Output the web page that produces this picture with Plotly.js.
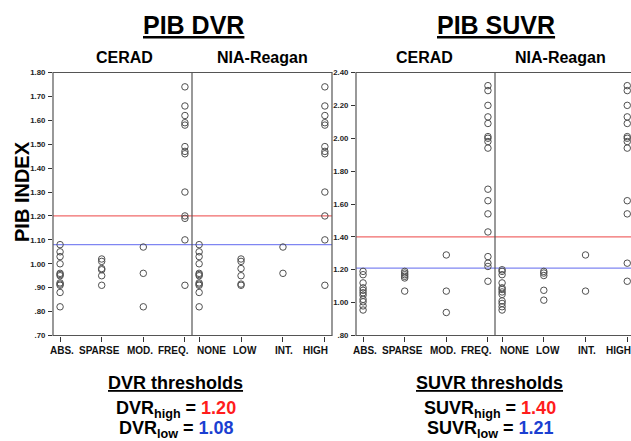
<!DOCTYPE html>
<html>
<head>
<meta charset="utf-8">
<script src="https://cdn.plot.ly/plotly-3.0.1.min.js"></script>
<style>html,body{margin:0;padding:0;background:#fff;}#chart{width:631px;height:441px;}</style>
</head>
<body>
<div id="chart"></div>
<script>
// ---- categories ----
const ceradCats = ['ABS.', 'SPARSE', 'MOD.', 'FREQ.'];
const niaCats = ['NONE', 'LOW', 'INT.', 'HIGH'];

// ---- PIB DVR values ----
const dvrAbs = [1.08, 1.05, 1.03, 1.00, 0.96, 0.955, 0.95, 0.92, 0.915, 0.91, 0.88, 0.82];
const dvrSparse = [1.02, 1.01, 0.98, 0.975, 0.95, 0.91];
const dvrMod = [1.07, 0.96, 0.82];
const dvrFreq = [1.74, 1.66, 1.62, 1.59, 1.58, 1.49, 1.47, 1.46, 1.30, 1.20, 1.19, 1.10, 0.91];
const dvrNone = [1.08, 1.05, 1.03, 1.00, 0.96, 0.955, 0.95, 0.92, 0.915, 0.91, 0.88, 0.82];
const dvrLow = [1.02, 1.01, 0.98, 0.95, 0.915, 0.91];
const dvrInt = [1.07, 0.96];
const dvrHigh = [1.74, 1.66, 1.62, 1.59, 1.58, 1.49, 1.47, 1.46, 1.30, 1.20, 1.10, 0.91];

// ---- PIB SUVR values ----
const suvrAbs = [1.19, 1.17, 1.12, 1.09, 1.075, 1.06, 1.045, 1.02, 1.005, 0.98, 0.955];
const suvrSparse = [1.19, 1.18, 1.17, 1.16, 1.15, 1.07];
const suvrMod = [1.29, 1.07, 0.94];
const suvrFreq = [2.32, 2.29, 2.20, 2.13, 2.09, 2.01, 2.00, 1.98, 1.94, 1.69, 1.62, 1.54, 1.43, 1.28, 1.24, 1.22, 1.13];
const suvrNone = [1.20, 1.19, 1.17, 1.12, 1.09, 1.08, 1.065, 1.05, 1.01, 0.995, 0.975, 0.955];
const suvrLow = [1.19, 1.18, 1.165, 1.075, 1.015];
const suvrInt = [1.29, 1.07];
const suvrHigh = [2.32, 2.29, 2.20, 2.13, 2.09, 2.01, 2.00, 1.98, 1.94, 1.62, 1.54, 1.24, 1.13];

// ---- thresholds [high, low] ----
const thrDVR = [1.20, 1.08];
const thrSUVR = [1.40, 1.21];

// ---- tick labels ----
const dvrTickVals = [0.7, 0.8, 0.9, 1.0, 1.1, 1.2, 1.3, 1.4, 1.5, 1.6, 1.7, 1.8];
const dvrTickText = ['.70', '.80', '.90', '1.00', '1.10', '1.20', '1.30', '1.40', '1.50', '1.60', '1.70', '1.80'];
const suvrTickVals = [0.8, 1.0, 1.2, 1.4, 1.6, 1.8, 2.0, 2.2, 2.4];
const suvrTickText = ['.80', '1.00', '1.20', '1.40', '1.60', '1.80', '2.00', '2.20', '2.40'];

// ---- build ----
const W = 631, H = 441;
const fx = v => v / W;
const fy = v => 1 - v / H;
const FONT = 'Liberation Sans, Arial, Helvetica, sans-serif';
const marker = {symbol: 'circle-open', size: 6.5, color: '#505050', line: {width: 1, color: '#505050'}};

function groupTrace(cat, vals, xa, ya) {
  return {type: 'scatter', mode: 'markers', x: vals.map(() => cat), y: vals,
          xaxis: xa, yaxis: ya, marker: marker, showlegend: false, hoverinfo: 'y', cliponaxis: false};
}

const traces = [];
const panels = [[dvrAbs, dvrSparse, dvrMod, dvrFreq], [dvrNone, dvrLow, dvrInt, dvrHigh],
 [suvrAbs, suvrSparse, suvrMod, suvrFreq], [suvrNone, suvrLow, suvrInt, suvrHigh]];
panels.forEach((groups, i) => {
  const cats = (i % 2 === 0) ? ceradCats : niaCats;
  const xa = i === 0 ? 'x' : 'x' + (i + 1);
  const ya = i < 2 ? 'y' : 'y2';
  groups.forEach((g, j) => traces.push(groupTrace(cats[j], g, xa, ya)));
});

const yDomain = [1 - 335.5 / H, 1 - 72.5 / H];
function xAxis(cats, d0, d1, r1, anchor) {
  return {type: 'category', categoryorder: 'array', categoryarray: cats,
          domain: [fx(d0), fx(d1)], range: [-0.17, r1], anchor: anchor,
          showgrid: false, zeroline: false, showline: false, ticks: 'outside', ticklen: 5,
          tickcolor: '#333', tickwidth: 1, showticklabels: false, fixedrange: true};
}
function yAxis(vals, text, range, anchor) {
  return {domain: yDomain, range: range, anchor: anchor, tickvals: vals, ticktext: text,
          showgrid: false, zeroline: false, showline: false, ticks: 'outside', ticklen: 4,
          tickcolor: '#333', tickwidth: 1, ticklabelstandoff: 1,
          tickfont: {size: 7.8, family: FONT, color: '#222', weight: 'bold'}, fixedrange: true};
}

const boxLine = {color: '#555', width: 1.2};
const shapes = [];
function panel(x0, xm, x1) {
  shapes.push({type: 'rect', xref: 'paper', yref: 'paper', x0: fx(x0), x1: fx(x1), y0: yDomain[0], y1: yDomain[1], line: boxLine, layer: 'above'});
  shapes.push({type: 'line', xref: 'paper', yref: 'paper', x0: fx(xm), x1: fx(xm), y0: yDomain[0], y1: yDomain[1], line: boxLine, layer: 'above'});
}
panel(53, 192, 332);
panel(356, 495, 632);
function thr(v, yref, x0, x1, color) {
  shapes.push({type: 'line', xref: 'paper', yref: yref, x0: fx(x0), x1: fx(x1), y0: v, y1: v, line: {color: color, width: 1.3}, layer: 'below'});
}
const RED_LINE = '#f06a6a', BLUE_LINE = '#7f86f2';
thr(thrDVR[0], 'y', 53, 332, RED_LINE);
thr(thrDVR[1], 'y', 53, 332, BLUE_LINE);
thr(thrSUVR[0], 'y2', 356, 632, RED_LINE);
thr(thrSUVR[1], 'y2', 356, 632, BLUE_LINE);

function ann(text, x, y, size, extra) {
  return Object.assign({text: text, xref: 'paper', yref: 'paper', x: fx(x), y: fy(y),
    xanchor: 'center', yanchor: 'middle', showarrow: false,
    font: {family: FONT, size: size, color: '#000'}}, extra || {});
}
const RED_T = '#ff1c1c', BLUE_T = '#1b3fd1';
const annotations = [
  ann('<b><u>PIB DVR</u></b>', 193, 25, 25),
  ann('<b><u>PIB SUVR</u></b>', 496, 25, 25),
  ann('<b>CERAD</b>', 124, 57, 16),
  ann('<b>NIA-Reagan</b>', 262, 57, 16),
  ann('<b>CERAD</b>', 425, 57, 16),
  ann('<b>NIA-Reagan</b>', 560, 57, 16),
  ann('<b>PIB INDEX</b>', 22, 192, 20, {textangle: -90}),
  ann('<b><u>DVR thresholds</u></b>', 175, 383, 18),
  ann('<b>DVR<sub>high</sub> = <span style="color:' + RED_T + '">' + thrDVR[0].toFixed(2) + '</span></b>', 176, 409, 18),
  ann('<b>DVR<sub>low</sub> = <span style="color:' + BLUE_T + '">' + thrDVR[1].toFixed(2) + '</span></b>', 176, 429, 18),
  ann('<b><u>SUVR thresholds</u></b>', 489, 383, 18),
  ann('<b>SUVR<sub>high</sub> = <span style="color:' + RED_T + '">' + thrSUVR[0].toFixed(2) + '</span></b>', 490, 409, 18),
  ann('<b>SUVR<sub>low</sub> = <span style="color:' + BLUE_T + '">' + thrSUVR[1].toFixed(2) + '</span></b>', 490, 429, 18)
];

// category tick labels, laid out as in the reference (slightly offset from ticks)
const labelShift = {'ABS.': 2, 'SPARSE': -2, 'MOD.': -3, 'FREQ.': -11, 'NONE': 12, 'LOW': 4, 'INT.': 1, 'HIGH': -9};
['x', 'x2', 'x3', 'x4'].forEach((xa, i) => {
  const cats = (i % 2 === 0) ? ceradCats : niaCats;
  cats.forEach(c => annotations.push({text: '<b>' + c + '</b>', xref: xa, yref: 'paper', x: c, y: fy(350.5),
    xanchor: 'center', yanchor: 'middle', xshift: labelShift[c], showarrow: false,
    font: {family: FONT, size: 10, color: '#111'}}));
});

const layout = {
  width: W, height: H, margin: {l: 0, r: 0, t: 0, b: 0},
  paper_bgcolor: '#fff', plot_bgcolor: 'rgba(0,0,0,0)', showlegend: false,
  xaxis: xAxis(ceradCats, 53, 192, 3.17, 'y'),
  xaxis2: xAxis(niaCats, 192, 332, 3.17, 'y'),
  xaxis3: xAxis(ceradCats, 356, 495, 3.17, 'y2'),
  xaxis4: xAxis(niaCats, 495, 631, 3.09, 'y2'),
  yaxis: yAxis(dvrTickVals, dvrTickText, [0.7, 1.8], 'x'),
  yaxis2: yAxis(suvrTickVals, suvrTickText, [0.8, 2.4], 'x3'),
  shapes: shapes, annotations: annotations
};
Plotly.newPlot('chart', traces, layout, {displayModeBar: false, staticPlot: true});
</script>
</body>
</html>
